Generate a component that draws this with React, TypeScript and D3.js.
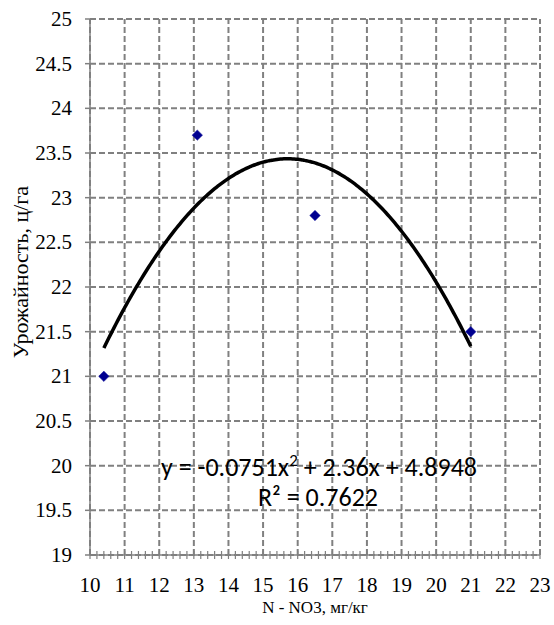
import React, { useRef, useEffect } from "react";
import * as d3 from "d3";

const nitrate = [10.4, 13.1, 16.5, 21];
const yieldVals = [21, 23.7, 22.8, 21.5];
const coeffs = [-0.0751, 2.36, 4.8948];
const trendX = [10.4, 21];
const xTicks = d3.range(10, 24, 1);
const yTicks = d3.range(19, 25.01, 0.5);

const SERIF = "'Liberation Serif', 'Times New Roman', serif";
const SANS = "Carlito, 'Open Sans', sans-serif";

const App = () => {
  const svgRef = useRef<SVGSVGElement>(null);

  useEffect(() => {
    const width = 554;
    const height = 625;
    const margin = { top: 19, right: 14, bottom: 70, left: 90 };

    const svg = d3.select(svgRef.current).attr("width", width).attr("height", height);
    svg.selectAll("*").remove();

    const x = d3.scaleLinear().domain([10, 23]).range([margin.left, width - margin.right]);
    const y = d3.scaleLinear().domain([19, 25]).range([height - margin.bottom, margin.top]);

    const grey = "#808080";

    // gridlines
    svg.append("g")
      .selectAll("line")
      .data(xTicks)
      .enter()
      .append("line")
      .attr("x1", (d) => x(d))
      .attr("x2", (d) => x(d))
      .attr("y1", y(19))
      .attr("y2", y(25))
      .attr("stroke", grey)
      .attr("stroke-width", 2)
      .attr("stroke-dasharray", "6,3");

    svg.append("g")
      .selectAll("line")
      .data(yTicks)
      .enter()
      .append("line")
      .attr("x1", x(10))
      .attr("x2", x(23))
      .attr("y1", (d) => y(d))
      .attr("y2", (d) => y(d))
      .attr("stroke", grey)
      .attr("stroke-width", 2)
      .attr("stroke-dasharray", "6,3");

    // axes
    const xAxis = svg.append("g").attr("transform", `translate(0,${y(19)})`);
    xAxis.append("line").attr("x1", x(10)).attr("x2", x(23)).attr("stroke", grey).attr("stroke-width", 1.5);
    xAxis.selectAll("line.minor")
      .data(d3.range(10, 23.01, 0.2))
      .enter()
      .append("line")
      .attr("class", "minor")
      .attr("x1", (d) => x(d))
      .attr("x2", (d) => x(d))
      .attr("y1", -4)
      .attr("y2", 4)
      .attr("stroke", grey)
      .attr("stroke-width", 1.2);
    xAxis.selectAll("text")
      .data(xTicks)
      .enter()
      .append("text")
      .attr("x", (d) => x(d))
      .attr("y", 37)
      .attr("text-anchor", "middle")
      .style("font-family", SERIF)
      .style("font-size", "21px")
      .attr("fill", "#000")
      .text((d) => d);

    const yAxis = svg.append("g").attr("transform", `translate(${x(10)},0)`);
    yAxis.append("line").attr("y1", y(19)).attr("y2", y(25)).attr("stroke", grey).attr("stroke-width", 1.5);
    yAxis.selectAll("line.tick")
      .data(yTicks)
      .enter()
      .append("line")
      .attr("class", "tick")
      .attr("x1", -5)
      .attr("x2", 0)
      .attr("y1", (d) => y(d))
      .attr("y2", (d) => y(d))
      .attr("stroke", grey)
      .attr("stroke-width", 1.5);
    yAxis.selectAll("text")
      .data(yTicks)
      .enter()
      .append("text")
      .attr("x", -18)
      .attr("y", (d) => y(d) + 7)
      .attr("text-anchor", "end")
      .style("font-family", SERIF)
      .style("font-size", "21px")
      .attr("fill", "#000")
      .text((d) => d);

    // trendline
    const [a, b, c] = coeffs;
    const xs = d3.range(trendX[0], trendX[1] + 0.001, 0.05);
    svg.append("path")
      .datum(xs)
      .attr("fill", "none")
      .attr("stroke", "#000")
      .attr("stroke-width", 3.5)
      .attr(
        "d",
        d3.line<number>()
          .x((d) => x(d))
          .y((d) => y(a * d * d + b * d + c))
          .curve(d3.curveBasis)
      );

    // points
    svg.append("g")
      .selectAll("path")
      .data(nitrate.map((d, i) => [d, yieldVals[i]]))
      .enter()
      .append("path")
      .attr("transform", (d) => `translate(${x(d[0])},${y(d[1])})`)
      .attr("d", d3.symbol(d3.symbolDiamond2, 70)())
      .attr("fill", "#000090")
      .attr("stroke", "#1a1aa0")
      .attr("stroke-width", 0.5);

    // equation
    const eq = svg.append("text")
      .attr("x", 319)
      .attr("y", 476)
      .attr("text-anchor", "middle")
      .style("font-family", SANS)
      .style("font-size", "26px")
      .attr("fill", "#000");
    eq.append("tspan").text(`y = ${a}x`);
    eq.append("tspan").attr("dy", -10).style("font-size", "17px").text("2");
    eq.append("tspan").attr("dy", 10).text(` + ${b}x + ${c}`);

    svg.append("text")
      .attr("x", 318)
      .attr("y", 506)
      .attr("text-anchor", "middle")
      .style("font-family", SANS)
      .style("font-size", "26px")
      .attr("fill", "#000")
      .text("R² = 0.7622");

    // axis titles
    svg.append("text")
      .attr("x", x(16.5))
      .attr("y", 613)
      .attr("text-anchor", "middle")
      .style("font-family", SERIF)
      .style("font-size", "17px")
      .attr("fill", "#000")
      .text("N - NO3, мг/кг");

    svg.append("text")
      .attr("transform", `translate(28,272) rotate(-90)`)
      .attr("text-anchor", "middle")
      .style("font-family", SERIF)
      .style("font-size", "22px")
      .attr("fill", "#000")
      .text("Урожайность, ц/га");
  }, []);

  return <svg ref={svgRef} style={{ position: "absolute", left: 0, top: 0 }}></svg>;
};

export default App;
